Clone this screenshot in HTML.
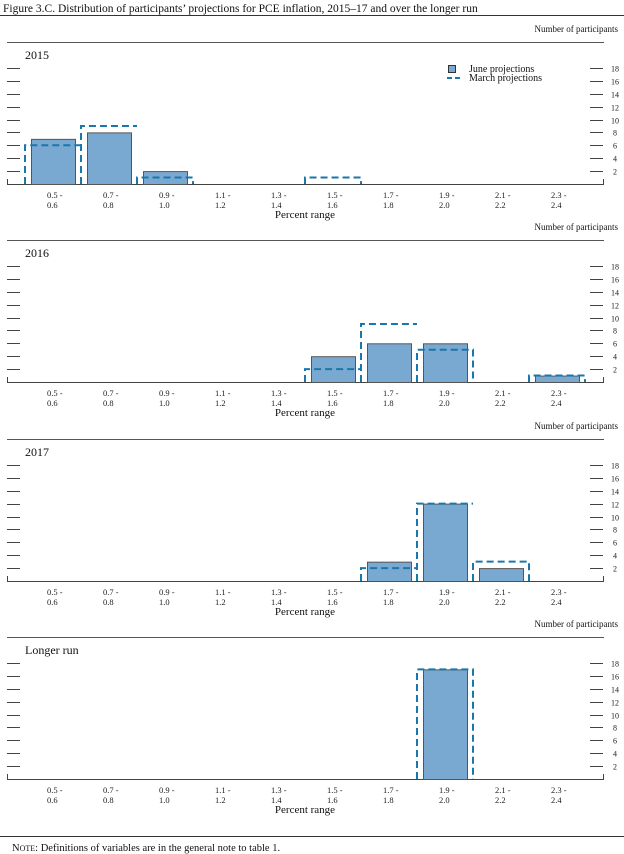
<!DOCTYPE html>
<html><head><meta charset="utf-8"><style>
body{margin:0;background:#fff;width:624px;height:854px;overflow:hidden}
svg{display:block;font-family:"Liberation Serif",serif}
</style></head><body>
<svg id="chart" width="624" height="854">
<text x="3" y="12" font-size="11.5" fill="#111">Figure 3.C. Distribution of participants’ projections for PCE inflation, 2015–17 and over the longer run</text>
<line x1="0" y1="15.5" x2="624" y2="15.5" stroke="#333" stroke-width="1"/>
<line x1="0" y1="836.5" x2="624" y2="836.5" stroke="#333" stroke-width="1"/>
<text x="12" y="851" font-size="10.5" fill="#111">N<tspan font-size="8">OTE</tspan>: Definitions of variables are in the general note to table 1.</text>
</svg>
<script>
const categories=["0.5 -|0.6","0.7 -|0.8","0.9 -|1.0","1.1 -|1.2","1.3 -|1.4","1.5 -|1.6","1.7 -|1.8","1.9 -|2.0","2.1 -|2.2","2.3 -|2.4"];
const panelTitles=["2015","2016","2017","Longer run"];
const june2015=[7,8,2,0,0,0,0,0,0,0];
const march2015=[6,9,1,0,0,1,0,0,0,0];
const june2016=[0,0,0,0,0,4,6,6,0,1];
const march2016=[0,0,0,0,0,2,9,5,0,1];
const june2017=[0,0,0,0,0,0,3,12,2,0];
const march2017=[0,0,0,0,0,0,2,12,3,0];
const juneLR=[0,0,0,0,0,0,0,17,0,0];
const marchLR=[0,0,0,0,0,0,0,17,0,0];
const yTicks=[2,4,6,8,10,12,14,16,18];
const juneSeries=[june2015,june2016,june2017,juneLR];
const marchSeries=[march2015,march2016,march2017,marchLR];
const panelTops=[42,240,439,637];

const NS="http://www.w3.org/2000/svg";
const svg=document.getElementById('chart');
function mk(tag,attrs,parent,txt){const e=document.createElementNS(NS,tag);for(const k in attrs)e.setAttribute(k,attrs[k]);if(txt!==undefined)e.textContent=txt;(parent||svg).appendChild(e);return e;}
const xC=i=>53+56*i;
const unit=6.45;

panelTops.forEach((top,p)=>{
  const base=top+142;
  const yS=v=>base-v*unit;
  const g=mk('g',{});
  
  
  const yl=mk('text',{x:618,y:top-10,'font-size':9,'text-anchor':'end',fill:'#111'},g,'Number of participants');
  
  
  const tl=mk('line',{x1:7,y1:top+0.5,x2:604,y2:top+0.5,stroke:'#555','stroke-width':1},g);
  
  
  const pt=mk('text',{x:25,y:top+17,'font-size':12,fill:'#111'},g,panelTitles[p]);
  
  
  yTicks.forEach(t=>{
    const y=Math.round(yS(t))+0.5;
    const a=mk('line',{x1:7,y1:y,x2:20,y2:y,stroke:'#444'},g);
    
    
    const b=mk('line',{x1:590,y1:y,x2:603,y2:y,stroke:'#444'},g);
    
    
    const l=mk('text',{x:615,y:y+3,'font-size':8,'text-anchor':'middle',fill:'#222'},g,String(t));
    
    
  });
  const ax=mk('path',{d:`M7.5 ${base-5} V${base+0.5} H603.5 V${base-5}`,fill:'none',stroke:'#444'},g);
  
  
  categories.forEach((c,i)=>{
    const [a,b]=c.split('|');
    const t=mk('text',{x:xC(i)-6,y:base+14,'font-size':8.5,fill:'#222'},g);
    
    
    mk('tspan',{x:xC(i)-6,dy:0},t,a);
    mk('tspan',{x:xC(i)-6,dy:10},t,b);
  });
  const xr=mk('text',{x:305,y:base+34,'font-size':11,'text-anchor':'middle',fill:'#111'},g,'Percent range');
  
  
  juneSeries[p].forEach((v,i)=>{
    if(!v)return;
    const r=mk('rect',{x:xC(i)-22+0.5,y:yS(v)+0.5,width:44,height:v*unit,fill:'#79a9d1',stroke:'#555','stroke-width':1},g);
    
    
  });
  const m=marchSeries[p];
  let d='';
  m.forEach((v,i)=>{
    if(!v)return;
    const x0=xC(i)-28,x1=xC(i)+28;
    const hl=i>0&&m[i-1]? yS(m[i-1]) : null;
    d+=`M${x0} ${base} V${yS(v)} H${x1} `;
    if(!(i<m.length-1&&m[i+1]))d+=`V${base} `;
  });
  const mp=mk('path',{d:d,fill:'none',stroke:'#1a77ac','stroke-width':2,'stroke-dasharray':'7 4'},g);
  
  
  if(p===0){
    const lr=mk('rect',{x:448.5,y:65.5,width:7,height:7,fill:'#79a9d1',stroke:'#333'},g);
    
    
    const lt=mk('text',{x:469,y:72,'font-size':10,fill:'#111'},g,'June projections');
    
    
    const ll=mk('line',{x1:447,y1:78,x2:460,y2:78,stroke:'#1a77ac','stroke-width':2,'stroke-dasharray':'5 3'},g);
    
    
    const lt2=mk('text',{x:469,y:81,'font-size':10,fill:'#111'},g,'March projections');
    
    
  }
});
</script>
</body></html>
